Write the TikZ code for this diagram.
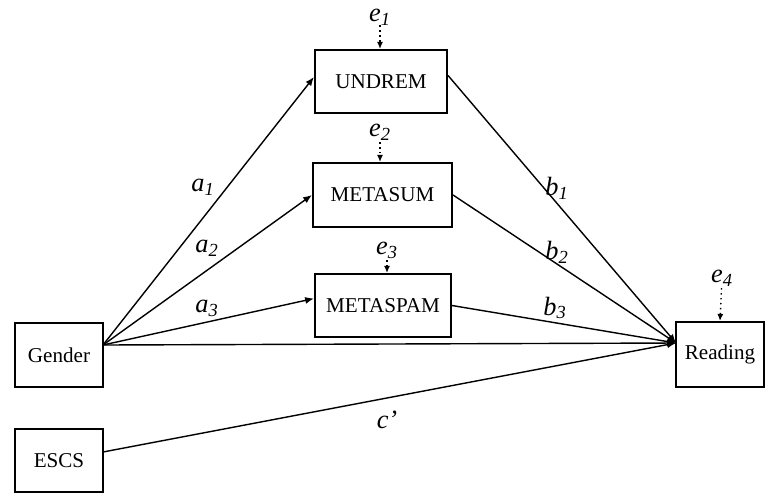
\documentclass[tikz,border=0pt]{standalone}
\usepackage{fontspec}
\setmainfont{Liberation Serif}
\usetikzlibrary{arrows.meta}

\begin{document}
\begin{tikzpicture}
	\tikzstyle{var} = [rectangle,draw=black,line width=1.2pt,inner sep=0pt,font=\fontsize{12}{14}\selectfont]
	\tikzstyle{edge} = [line width=0.8pt,-{Latex[length=5pt,width=4pt]}]
	\tikzstyle{err} = [line width=0.8pt,dotted,-{Latex[length=4pt,width=3.5pt]}]
	\tikzstyle{lab} = [inner sep=1pt,font=\fontsize{15}{17}\selectfont\itshape]
	\useasboundingbox (0,0) rectangle (15.32,-9.86);
	\node[var,minimum width=2.64cm,minimum height=1.26cm] (undrem) at (7.62,-1.63) {UNDREM};
	\node[var,minimum width=2.78cm,minimum height=1.28cm] (metasum) at (7.65,-3.9) {METASUM};
	\node[var,minimum width=2.72cm,minimum height=1.26cm] (metaspam) at (7.66,-6.11) {METASPAM};
	\node[var,minimum width=1.76cm,minimum height=1.28cm] (gender) at (1.18,-7.1) {Gender};
	\node[var,minimum width=1.76cm,minimum height=1.26cm] (escs) at (1.18,-9.21) {ESCS};
	\node[var,minimum width=1.76cm,minimum height=1.3cm] (reading) at (14.4,-7.09) {Reading};
	\node[lab,inner sep=0pt] (e1) at (7.6,-0.34) {e\textsubscript{1}};
	\node[lab] (e2) at (7.6,-2.64) {e\textsubscript{2}};
	\node[lab] (e3) at (7.74,-5.0) {e\textsubscript{3}};
	\node[lab] (e4) at (14.44,-5.56) {e\textsubscript{4}};
	\node[lab] (a1) at (4.06,-3.74) {a\textsubscript{1}};
	\node[lab] (a2) at (4.14,-4.96) {a\textsubscript{2}};
	\node[lab] (a3) at (4.14,-6.16) {a\textsubscript{3}};
	\node[lab] (b1) at (11.14,-3.76) {b\textsubscript{1}};
	\node[lab] (b2) at (11.14,-5.04) {b\textsubscript{2}};
	\node[lab] (b3) at (11.1,-6.16) {b\textsubscript{3}};
	\node[lab] (c) at (7.74,-8.4) {c'};
	\coordinate (gout) at (2.06,-6.9);
	\coordinate (eout) at (2.06,-9.04);
	\coordinate (rin) at (13.52,-6.86);

	\draw[err] (e1) -- (undrem.north -| e1);
	\draw[err] (e2) -- (metasum.north -| e2);
	\draw[err] (e3) -- (metaspam.north -| e3);
	\draw[err] (e4) -- (reading.north);
	\draw[edge] (gout) -- ([yshift=0.09cm]undrem.west);
	\draw[edge] (gout) -- (metasum.west);
	\draw[edge] (gout) -- ([yshift=0.14cm]metaspam.west);
	\draw[edge] ([yshift=0.12cm]undrem.east) -- (rin);
	\draw[edge] (metasum.east) -- (rin);
	\draw[edge] (metaspam.east) -- (rin);
	\draw[edge] (gout) -- (rin);
	\draw[edge] (eout) -- (rin);
\end{tikzpicture}
\end{document}
